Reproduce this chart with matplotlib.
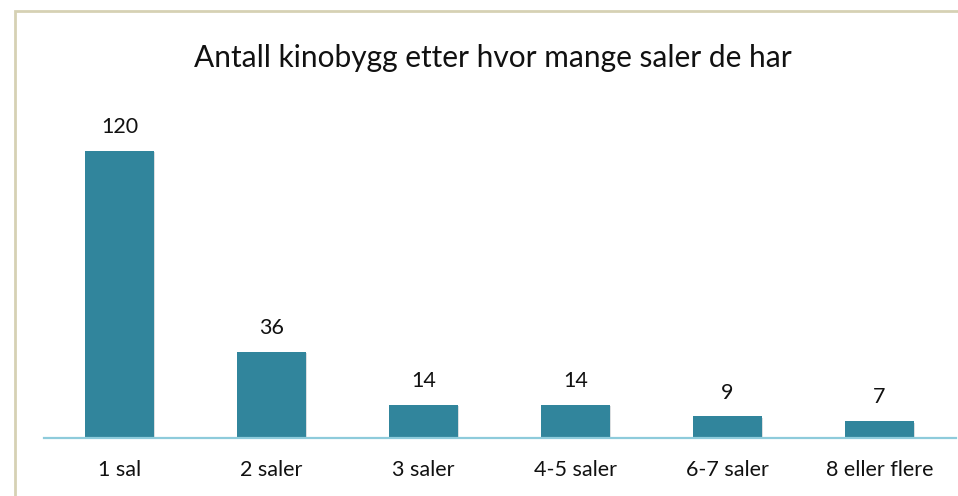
import matplotlib.pyplot as plt
import matplotlib.patheffects as pe
from matplotlib.patches import Rectangle

categories = ["1 sal", "2 saler", "3 saler", "4-5 saler", "6-7 saler", "8 eller flere"]
values = [120, 36, 14, 14, 9, 7]

W, H = 958, 496
fig = plt.figure(figsize=(W / 100, H / 100), dpi=100)
fig.patch.set_facecolor("white")

# chart frame (runs off right and bottom edge)
fig.patches.append(Rectangle((14.5 / W, -0.1), 1.2, (H - 10.5) / H + 0.1,
                             transform=fig.transFigure, fill=False,
                             edgecolor="#d6d1b4", linewidth=2.0))

ax = fig.add_axes([43.5 / W, (H - 438) / H, (955.5 - 43.5) / W, (438 - 103) / H])
ax.set_xlim(-0.5, len(categories) - 0.5)
ax.set_ylim(0, 140)

bars = ax.bar(range(len(categories)), values, width=0.455, color="#31859c",
              zorder=2)
for b in bars:
    b.set_path_effects([pe.SimplePatchShadow(offset=(1, -1), alpha=0.15),
                        pe.Normal()])

for i, v in enumerate(values):
    ax.annotate(str(v), (i, v), xytext=(0, 10), textcoords="offset points",
                ha="center", va="bottom", fontsize=15.5, family="Lato",
                color="#111111")

for s in ["top", "right", "left"]:
    ax.spines[s].set_visible(False)
ax.spines["bottom"].set_color("#8ecbdb")
ax.spines["bottom"].set_linewidth(1.6)
ax.set_yticks([])
ax.set_xticks(range(len(categories)))
ax.set_xticklabels(categories, fontsize=15.5, family="Lato", color="#111111")
ax.tick_params(axis="x", length=0, pad=16)

fig.text(493 / W, 1 - 58 / H, "Antall kinobygg etter hvor mange saler de har",
         ha="center", va="center", fontsize=21.5, family="Lato", color="#111111")

fig.savefig("out.png", dpi=100)
